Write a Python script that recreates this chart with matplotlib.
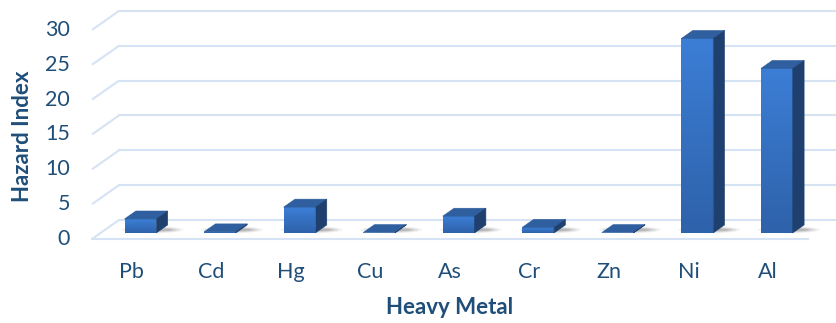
import numpy as np
import matplotlib
matplotlib.use("Agg")
import matplotlib.pyplot as plt
from matplotlib.patches import Polygon, Ellipse

plt.rcParams['font.family'] = ['Lato', 'DejaVu Sans']

metals = ["Pb", "Cd", "Hg", "Cu", "As", "Cr", "Zn", "Ni", "Al"]
hazard_index = [2.0, 0.15, 3.7, 0.05, 2.4, 0.8, 0.05, 27.9, 23.6]
y_ticks = [0, 5, 10, 15, 20, 25, 30]

TEXT = '#1F4E79'
GRID = '#D6E3F4'
FRONT_TOP = np.array([0x3C, 0x7E, 0xD6]) / 255
FRONT_BOT = np.array([0x2E, 0x62, 0xAA]) / 255
TOPC = '#2F5F9E'
SIDE = '#1F406E'

W, H, DPI = 837, 323, 100
fig = plt.figure(figsize=(W / DPI, H / DPI), dpi=DPI)
ax = fig.add_axes([0, 0, 1, 1])
ax.set_axis_off()

# pixel geometry -> data geometry
px_per_cat = 716 / 9.0
px_per_val = 6.97
x_front_left = 92
y_front0 = 239
ax.set_xlim(-0.5 - x_front_left / px_per_cat, -0.5 + (W - x_front_left) / px_per_cat)
ax.set_ylim(-(H - y_front0) / px_per_val, y_front0 / px_per_val)

DX = 27 / px_per_cat      # depth shift in x
DY = 19 / px_per_val      # depth shift in y
n = len(metals)
x0, x1 = -0.5, n - 0.5
xmax = ax.get_xlim()[1]

# gridlines: side wall diagonals + back wall horizontals
for v in y_ticks:
    ax.plot([x0, x0 + DX], [v, v + DY], color=GRID, lw=1.5, solid_capstyle='butt', zorder=1)
    ax.plot([x0 + DX, xmax], [v + DY, v + DY], color=GRID, lw=1.5, zorder=1)
# floor front edge
ax.plot([x0, x1], [0, 0], color=GRID, lw=1.5, zorder=1)

d0, d1 = 0.32, 0.74
bw = 0.40
grad = np.linspace(0, 1, 100)[:, None, None]
grad_img = FRONT_BOT * (1 - grad) + FRONT_TOP * grad
grad_img = np.repeat(grad_img, 2, axis=1)

for i, v in enumerate(hazard_index):
    xl = i - bw / 2
    xr = i + bw / 2
    yb0 = d0 * DY
    # soft shadow at the base
    cx = i + 0.08 + (d0 + d1) / 2 * DX
    cy = yb0 + 0.45
    for sw, sh, a in [(0.78, 1.0, 0.05), (0.68, 0.8, 0.07), (0.58, 0.6, 0.09), (0.5, 0.4, 0.10)]:
        ax.add_patch(Ellipse((cx, cy), sw, sh, color='black', alpha=a, lw=0, zorder=2))
    # front face gradient
    im = ax.imshow(grad_img, extent=[xl + d0 * DX, xr + d0 * DX, yb0, yb0 + v],
                   origin='lower', aspect='auto', zorder=3, interpolation='bilinear')
    rect = Polygon([(xl + d0 * DX, yb0), (xr + d0 * DX, yb0),
                    (xr + d0 * DX, yb0 + v), (xl + d0 * DX, yb0 + v)],
                   closed=True, fc='none', ec='none')
    ax.add_patch(rect)
    im.set_clip_path(rect)
    # top face
    ax.add_patch(Polygon([(xl + d0 * DX, v + d0 * DY), (xr + d0 * DX, v + d0 * DY),
                          (xr + d1 * DX, v + d1 * DY), (xl + d1 * DX, v + d1 * DY)],
                         closed=True, fc=TOPC, ec=TOPC, lw=0.4, zorder=4))
    # side face
    ax.add_patch(Polygon([(xr + d0 * DX, d0 * DY), (xr + d1 * DX, d1 * DY),
                          (xr + d1 * DX, v + d1 * DY), (xr + d0 * DX, v + d0 * DY)],
                         closed=True, fc=SIDE, ec=SIDE, lw=0.4, zorder=4))

# tick labels
x_tick = x0 - 22 / px_per_cat
for v in y_ticks:
    ax.text(x_tick, v, str(v), ha='right', va='center', fontsize=15.5, color=TEXT)
# category labels
y_cat = -(272 - y_front0) / px_per_val
for i, m in enumerate(metals):
    ax.text(i, y_cat, m, ha='center', va='center', fontsize=15.5, color=TEXT)

# axis titles
ax.text((x0 + x1) / 2, -(308 - y_front0) / px_per_val, "Heavy Metal", ha='center', va='center',
        fontsize=16, fontweight='bold', color=TEXT)
ax.text(x0 - 70 / px_per_cat, (y_front0 - 136) / px_per_val, "Hazard Index", ha='center', va='center',
        rotation=90, fontsize=16, fontweight='bold', color=TEXT)

fig.savefig("out.png", dpi=DPI)
